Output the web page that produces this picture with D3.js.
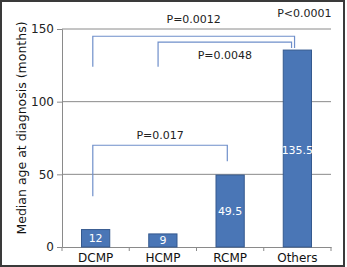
<!DOCTYPE html>
<html>
<head>
<meta charset="utf-8">
<script src="https://cdn.jsdelivr.net/npm/d3@7"></script>
<style>
  body { margin: 0; background: #fff; }
  svg text { font-family: "DejaVu Sans", sans-serif; }
</style>
</head>
<body>
<div id="chart"></div>
<script>
var categories = ["DCMP", "HCMP", "RCMP", "Others"];
var medianAge = [12, 9, 49.5, 135.5];
var valueLabels = ["12", "9", "49.5", "135.5"];
var yTicks = [0, 50, 100, 150];
// brackets: from category, to category, left leg bottom value, right leg bottom value, top value, label
var brackets = [
  {from: "DCMP", to: "Others", low1: 124, low2: 137, top: 145, label: "P=0.0012", labelY: 157},
  {from: "HCMP", to: "Others", low1: 124, low2: 137, top: 141, label: "P=0.0048", labelY: 132},
  {from: "DCMP", to: "RCMP", low1: 35, low2: 59, top: 70, label: "P=0.017", labelY: 77}
];
var extraLabel = {text: "P<0.0001", cat: "Others", value: 161};

var W = 347, H = 267;
var margin = {top: 29, right: 16, bottom: 20, left: 62};

var svg = d3.select("#chart").append("svg")
  .attr("width", W).attr("height", H);

// outer frame
svg.append("rect")
  .attr("x", 1).attr("y", 1)
  .attr("width", 343).attr("height", 265)
  .attr("fill", "#fff")
  .attr("stroke", "#3a3a3a")
  .attr("stroke-width", 2);

var x = d3.scaleBand().domain(categories)
  .range([margin.left, W - margin.right]).paddingInner(0.58).paddingOuter(0.29);
var y = d3.scaleLinear().domain([0, 150])
  .range([H - margin.bottom, margin.top]);

// grid lines
svg.append("g").selectAll("line")
  .data(yTicks.filter(function(d){ return d > 0; }))
  .enter().append("line")
  .attr("x1", margin.left).attr("x2", W - margin.right)
  .attr("y1", function(d){ return y(d); }).attr("y2", function(d){ return y(d); })
  .attr("stroke", "#8a8a8a").attr("stroke-width", 1);

// y axis
var yAxis = svg.append("g")
  .attr("transform", "translate(" + margin.left + ",0)")
  .call(d3.axisLeft(y).tickValues(yTicks).tickSize(5).tickPadding(3));
yAxis.select(".domain").attr("stroke", "#8a8a8a");
yAxis.selectAll(".tick line").attr("stroke", "#8a8a8a");
yAxis.selectAll("text").attr("font-size", 12).attr("fill", "#222");

// x axis with ticks at band boundaries
var xAxis = svg.append("g")
  .attr("transform", "translate(0," + y(0) + ")")
  .call(d3.axisBottom(x).tickSize(0).tickPadding(6));
xAxis.select(".domain").attr("stroke", "#8a8a8a");
xAxis.selectAll("text").attr("font-size", 12).attr("fill", "#111");
var step = x.step();
var bounds = d3.range(categories.length + 1).map(function(i){ return margin.left + i * (W - margin.right - margin.left) / categories.length; });
svg.append("g").selectAll("line").data(bounds).enter().append("line")
  .attr("x1", function(d){ return d; }).attr("x2", function(d){ return d; })
  .attr("y1", y(0)).attr("y2", y(0) + 4)
  .attr("stroke", "#8a8a8a");

// bars
svg.append("g").selectAll("rect")
  .data(medianAge)
  .enter().append("rect")
  .attr("x", function(d, i){ return x(categories[i]); })
  .attr("y", function(d){ return y(d); })
  .attr("width", x.bandwidth())
  .attr("height", function(d){ return y(0) - y(d); })
  .attr("fill", "#4a76b6")
  .attr("stroke", "#35598e")
  .attr("stroke-width", 1);

// value labels inside bars
svg.append("g").selectAll("text")
  .data(medianAge)
  .enter().append("text")
  .attr("x", function(d, i){ return x(categories[i]) + x.bandwidth() / 2; })
  .attr("y", function(d){ return d > 30 ? y(d * 0.5) + 4 : y(d / 2) + 4; })
  .attr("text-anchor", "middle")
  .attr("font-size", 11)
  .attr("fill", "#fff")
  .text(function(d, i){ return valueLabels[i]; });
// tweak: 135.5 label sits higher in original
svg.selectAll("g text").filter(function(){ return this.textContent === "135.5"; })
  .attr("y", y(67) + 4);

// brackets
brackets.forEach(function(b){
  var x1 = x(b.from) + x.bandwidth() * 0.4;
  var x2 = x(b.to) + (b.to === "Others" ? x.bandwidth() * 0.4 : x.bandwidth() * 0.4);
  if (b.from === "HCMP") { x1 = x(b.from) + x.bandwidth() * 0.33; x2 = x2 - 3; }
  var path = d3.path();
  path.moveTo(x1, y(b.low1));
  path.lineTo(x1, y(b.top));
  path.lineTo(x2, y(b.top));
  path.lineTo(x2, y(b.low2));
  svg.append("path").attr("d", path.toString())
    .attr("fill", "none").attr("stroke", "#6f8fca").attr("stroke-width", 1.2);
  svg.append("text")
    .attr("x", (x1 + x2) / 2).attr("y", y(b.labelY) + 4)
    .attr("text-anchor", "middle").attr("font-size", 11).attr("fill", "#222")
    .text(b.label);
});
svg.append("text")
  .attr("x", x(extraLabel.cat) + x.bandwidth() / 2 + 7).attr("y", y(extraLabel.value) + 4)
  .attr("text-anchor", "middle").attr("font-size", 11).attr("fill", "#222")
  .text(extraLabel.text);

// y label
svg.append("text")
  .attr("transform", "translate(26," + 128 + ") rotate(-90)")
  .attr("text-anchor", "middle")
  .attr("font-size", 12.5)
  .attr("fill", "#111")
  .text("Median age at diagnosis (months)");
</script>
</body>
</html>
